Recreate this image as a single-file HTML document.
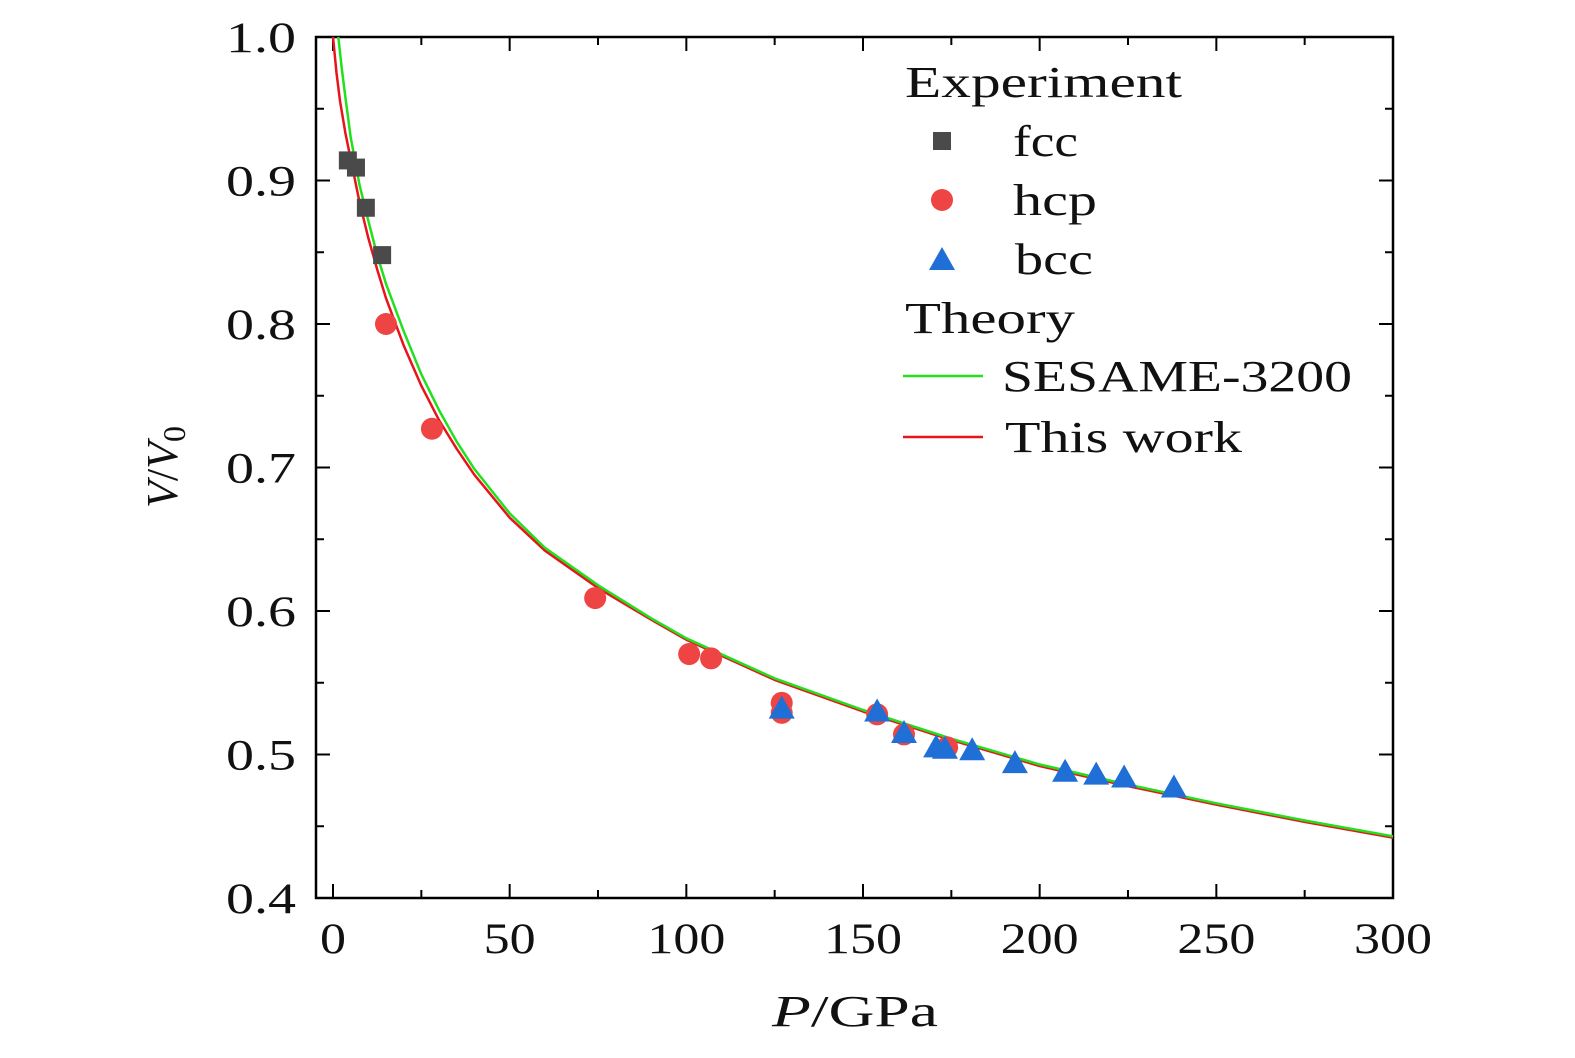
<!DOCTYPE html>
<html><head><meta charset="utf-8"><style>
html,body{margin:0;padding:0;background:#fff;}
svg text{font-family:"Liberation Serif",serif;fill:#111;}
</style></head><body>
<svg id="chart" width="1575" height="1053" viewBox="0 0 1575 1053" xmlns="http://www.w3.org/2000/svg">
<g id="axes"></g><g id="curves"></g><g id="marks"></g><g id="legend"></g>
</svg>
<script>
const xTicks=[0,50,100,150,200,250,300];
const yTicks=[0.4,0.5,0.6,0.7,0.8,0.9,1.0];
const yTickLabels=["0.4","0.5","0.6","0.7","0.8","0.9","1.0"];
const fccP=[4.2,6.5,9.3,13.9];
const fccV=[0.914,0.909,0.881,0.848];
const hcpP=[15,28,74.2,100.8,107,127,127,154,161.6,173.8];
const hcpV=[0.800,0.727,0.609,0.570,0.567,0.536,0.529,0.528,0.514,0.505];
const bccP=[127,154,161.6,170.7,173.2,180.9,193,207.2,216,223.9,238];
const bccV=[0.532,0.530,0.515,0.505,0.504,0.503,0.494,0.488,0.486,0.484,0.477];
const redP=[0,1,2,3.5,5,7.5,10,12.5,15,20,25,30,35,40,50,60,75,90,100,125,150,175,200,225,250,275,300];
const redV=[1.0,0.975,0.955,0.933,0.915,0.885,0.86,0.838,0.818,0.785,0.757,0.733,0.713,0.695,0.665,0.642,0.616,0.594,0.58,0.552,0.53,0.51,0.492,0.478,0.465,0.453,0.442];
const greenP=[1.5,2.5,3.5,5,7.5,10,12.5,15,20,25,30,35,40,50,60,75,90,100,125,150,175,200,225,250,275,300];
const greenV=[1.0,0.978,0.958,0.93,0.897,0.872,0.848,0.828,0.795,0.765,0.740,0.718,0.699,0.668,0.644,0.618,0.595,0.581,0.553,0.531,0.511,0.493,0.479,0.466,0.454,0.443];

const NS="http://www.w3.org/2000/svg";
const L=333,R=1393,T=37,B=898,AL=316;
const xs=p=>L+p*(R-L)/300;
const ys=v=>B-(v-0.4)*(B-T)/0.6;
function mk(tag,attrs,parent){const e=document.createElementNS(NS,tag);for(const k in attrs)e.setAttribute(k,attrs[k]);parent.appendChild(e);return e;}
const axes=document.getElementById('axes');
const frame=mk('rect',{x:AL,y:T,width:R-AL,height:B-T,fill:'none',stroke:'#000','stroke-width':2.5},axes);


for(let i=0;i<xTicks.length;i++){
  const x=xs(xTicks[i]);
  mk('line',{x1:x,y1:B,x2:x,y2:B-14,stroke:'#000','stroke-width':2},axes);
  mk('line',{x1:x,y1:T,x2:x,y2:T+14,stroke:'#000','stroke-width':2},axes);
  if(i<xTicks.length-1){const xm=xs(xTicks[i]+25);
    mk('line',{x1:xm,y1:B,x2:xm,y2:B-8,stroke:'#000','stroke-width':2},axes);
    mk('line',{x1:xm,y1:T,x2:xm,y2:T+8,stroke:'#000','stroke-width':2},axes);}
  const s=String(xTicks[i]);
  const t=mk('text',{x:x,y:953,'font-size':43,'text-anchor':'middle',textLength:s.length*26,lengthAdjust:'spacingAndGlyphs'},axes);t.textContent=s;
  
  
}
for(let i=0;i<yTicks.length;i++){
  const y=ys(yTicks[i]);
  mk('line',{x1:AL,y1:y,x2:AL+14,y2:y,stroke:'#000','stroke-width':2},axes);
  mk('line',{x1:R,y1:y,x2:R-14,y2:y,stroke:'#000','stroke-width':2},axes);
  if(i<yTicks.length-1){const ym=ys(yTicks[i]+0.05);
    mk('line',{x1:AL,y1:ym,x2:AL+8,y2:ym,stroke:'#000','stroke-width':2},axes);
    mk('line',{x1:R,y1:ym,x2:R-8,y2:ym,stroke:'#000','stroke-width':2},axes);}
  const t=mk('text',{x:296,y:y+15,'font-size':43,'text-anchor':'end',textLength:70,lengthAdjust:'spacingAndGlyphs'},axes);t.textContent=yTickLabels[i];
  
  
}
const xt=mk('text',{x:855,y:1026,'font-size':44,'text-anchor':'middle',textLength:166,lengthAdjust:'spacingAndGlyphs'},axes);
xt.innerHTML='<tspan font-style="italic">P</tspan>/GPa';


const yt=mk('text',{x:0,y:0,'font-size':44,'text-anchor':'middle',transform:'translate(177,467) rotate(-90)'},axes);
yt.innerHTML='<tspan font-style="italic">V</tspan>/<tspan font-style="italic">V</tspan><tspan font-size="32" dy="8">0</tspan>';



const curves=document.getElementById('curves');
function line(P,V,color,name){
  const d=P.map((p,i)=>(i?'L':'M')+xs(p).toFixed(1)+','+ys(V[i]).toFixed(1)).join(' ');
  const e=mk('path',{d:d,fill:'none',stroke:color,'stroke-width':2.5,'stroke-linejoin':'round'},curves);
  
  
}
line(redP,redV,'#e8141b','this-work-curve');
line(greenP,greenV,'#22e01e','sesame-3200-curve');

const marks=document.getElementById('marks');
function sq(x,y,p){return mk('rect',{x:x-9,y:y-9,width:18,height:18,fill:'#4a4a4a'},p);}
function ci(x,y,p){return mk('circle',{cx:x,cy:y,r:11,fill:'#ee4444'},p);}
function tr(x,y,p){return mk('polygon',{points:`${x},${y-13} ${x+13},${y+10} ${x-13},${y+10}`,fill:'#1f6fd6'},p);}
for(let i=0;i<fccP.length;i++){const e=sq(xs(fccP[i]),ys(fccV[i]),marks);
  
  }
for(let i=0;i<hcpP.length;i++){const e=ci(xs(hcpP[i]),ys(hcpV[i]),marks);
  
  }
for(let i=0;i<bccP.length;i++){const e=tr(xs(bccP[i]),ys(bccV[i]),marks);
  
  }

const lg=document.getElementById('legend');


function txt(x,y,s,w,name){const t=mk('text',{x:x,y:y,'font-size':44,textLength:w,lengthAdjust:'spacingAndGlyphs'},lg);t.textContent=s;
  
  }
txt(905,97,'Experiment',277,'legend-experiment-heading');
sq(942,141,lg);txt(1013,156,'fcc',65,'legend-fcc');
ci(942,200,lg);txt(1013,215,'hcp',84,'legend-hcp');
tr(942,260,lg);txt(1015,274,'bcc',78,'legend-bcc');
txt(905,333,'Theory',170,'legend-theory-heading');
mk('line',{x1:903,y1:376,x2:983,y2:376,stroke:'#22e01e','stroke-width':2.5},lg);
txt(1002,391,'SESAME-3200',350,'legend-sesame');
mk('line',{x1:903,y1:437,x2:983,y2:437,stroke:'#e8141b','stroke-width':2.5},lg);
txt(1005,452,'This work',237,'legend-this-work');
</script>
</body></html>
